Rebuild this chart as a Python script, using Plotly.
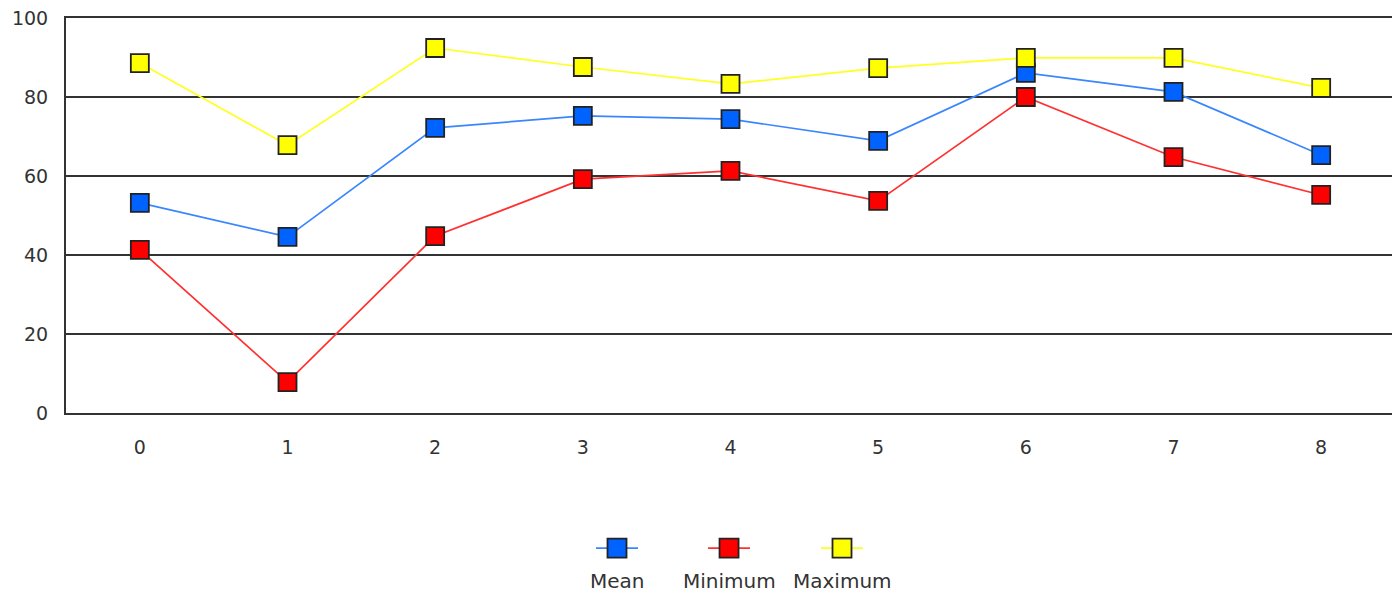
import plotly.graph_objects as go

categories = [0, 1, 2, 3, 4, 5, 6, 7, 8]
mean_vals = [53.2, 44.6, 72.2, 75.2, 74.4, 68.9, 86.1, 81.3, 65.3]
min_vals = [41.3, 7.8, 44.8, 59.2, 61.3, 53.7, 80.0, 64.8, 55.2]
max_vals = [88.6, 67.8, 92.4, 87.6, 83.3, 87.3, 89.9, 89.9, 82.3]
series_names = ["Mean", "Minimum", "Maximum"]
y_ticks = [0, 20, 40, 60, 80, 100]

line_colors = ["#3a86ff", "#ff3030", "#ffff20"]
fill_colors = ["#0062ff", "#ff0000", "#ffff00"]
FONT = "DejaVu Sans, Verdana, Arial"

fig = go.Figure()
for name, vals, lc, fc in zip(series_names, [mean_vals, min_vals, max_vals], line_colors, fill_colors):
    fig.add_trace(go.Scatter(
        x=categories, y=vals, mode="lines+markers", name=name,
        line=dict(color=lc, width=1.7),
        marker=dict(symbol="square", size=18, color=fc, line=dict(color="#222222", width=1.8)),
        showlegend=False,
    ))

# manual legend below the plot (marker above text)
legend_x = [0.4146, 0.4989, 0.5839]
shapes = []
annotations = []
for name, lx, lc, fc in zip(series_names, legend_x, line_colors, fill_colors):
    shapes.append(dict(type="line", xref="paper", yref="paper", xsizemode="pixel", ysizemode="pixel",
                       xanchor=lx, yanchor=-0.342, x0=-21, x1=21, y0=0, y1=0,
                       line=dict(color=lc, width=1.7)))
    shapes.append(dict(type="rect", xref="paper", yref="paper", xsizemode="pixel", ysizemode="pixel",
                       xanchor=lx, yanchor=-0.342, x0=-9.5, x1=9.5, y0=-9.5, y1=9.5,
                       fillcolor=fc, line=dict(color="#222222", width=1.8)))
    annotations.append(dict(text=name, xref="paper", yref="paper", x=lx, y=-0.425,
                            showarrow=False, xanchor="center", yanchor="middle",
                            font=dict(family=FONT, size=20, color="#333333")))

fig.update_layout(
    width=1392, height=590,
    margin=dict(l=58, r=5, t=10, b=185),
    plot_bgcolor="white", paper_bgcolor="white",
    shapes=shapes, annotations=annotations,
    font=dict(family=FONT, size=19, color="#333333"),
)
fig.update_xaxes(
    range=[-0.5, 8.5], tickmode="array", tickvals=categories, ticktext=[str(c) for c in categories],
    showgrid=False, zeroline=False, showline=True, linecolor="#333333", linewidth=2, mirror=True,
    ticks="", ticklabelstandoff=16, ticklabeloverflow="allow", automargin=False,
)
fig.update_yaxes(
    range=[0, 100], tickmode="array", tickvals=y_ticks,
    showgrid=True, gridcolor="#333333", gridwidth=2, zeroline=False,
    showline=True, linecolor="#333333", linewidth=2, mirror=True,
    ticks="", ticklabelstandoff=12, ticklabeloverflow="allow", automargin=False,
)

fig.write_html("out.html")
